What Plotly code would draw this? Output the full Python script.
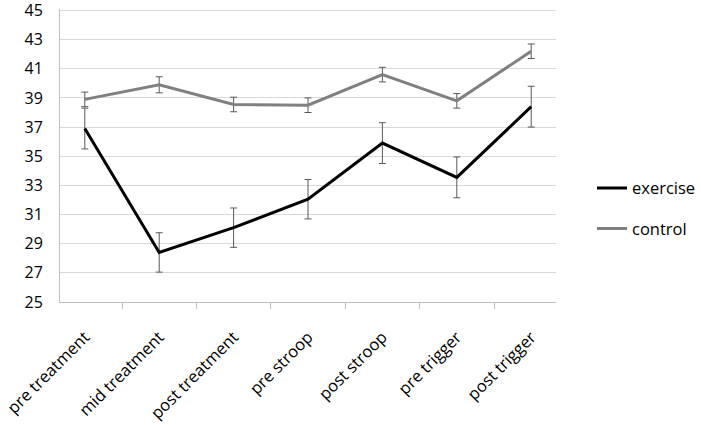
import plotly.graph_objects as go

categories = ["pre treatment", "mid treatment", "post treatment", "pre stroop",
              "post stroop", "pre trigger", "post trigger"]

exercise = [36.9, 28.4, 30.1, 32.05, 35.9, 33.55, 38.4]
exercise_err = [1.4, 1.35, 1.35, 1.35, 1.4, 1.4, 1.4]

control = [38.9, 39.9, 38.55, 38.5, 40.6, 38.8, 42.2]
control_err = [0.5, 0.55, 0.5, 0.5, 0.5, 0.5, 0.5]

y_ticks = [25, 27, 29, 31, 33, 35, 37, 39, 41, 43, 45]

fig = go.Figure()

fig.add_trace(go.Scatter(
    x=categories, y=exercise, name="exercise", mode="lines",
    line=dict(color="black", width=3),
    error_y=dict(type="data", array=exercise_err, color="#595959", thickness=1, width=3.5),
    legendgroup="a",
))
fig.add_trace(go.Scatter(
    x=categories, y=control, name="control", mode="lines",
    line=dict(color="#808080", width=3),
    error_y=dict(type="data", array=control_err, color="#595959", thickness=1, width=3.5),
    legendgroup="b",
))

fig.update_layout(
    width=701, height=425,
    margin=dict(l=60, r=145, t=9, b=123),
    plot_bgcolor="white", paper_bgcolor="white",
    font=dict(family="Open Sans, Liberation Sans, sans-serif", color="black", size=16),
    xaxis=dict(
        type="category", tickangle=-45, ticks="outside", tickson="boundaries",
        ticklen=6, tickcolor="#bfbfbf", showline=True, linecolor="#bfbfbf",
        showgrid=False, tickfont=dict(size=16.5), automargin=False,
        ticklabelstandoff=18,
    ),
    yaxis=dict(
        range=[25, 45.1], tickvals=y_ticks, showline=True, linecolor="#bfbfbf",
        gridcolor="#d9d9d9", zeroline=False, tickfont=dict(size=16),
        ticks="", ticklabelstandoff=13, automargin=False,
        ticklabeloverflow="allow",
    ),
    # pin the legend to the right edge of the page so it does not shrink the plot
    legend=dict(xref="container", x=1, xanchor="right", y=0.32, yanchor="middle",
                tracegroupgap=16, font=dict(size=16.5)),
    showlegend=True,
)

# drop the default page margin so the figure sits at the window's corner
fig.write_html("out.html", config={"displayModeBar": False},
               post_script="document.body.style.margin='0px';")
